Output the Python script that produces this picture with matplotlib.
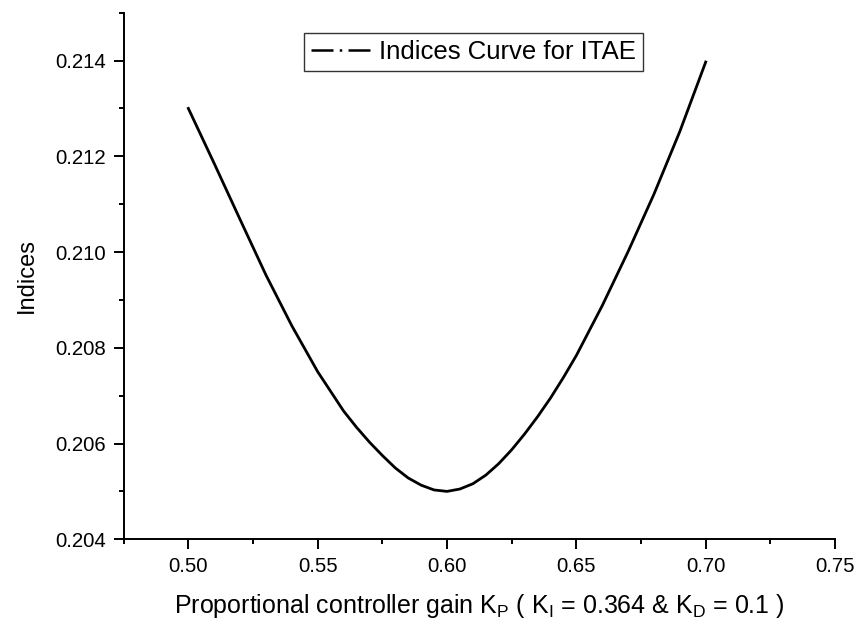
import matplotlib as mpl
import matplotlib.pyplot as plt
from matplotlib.lines import Line2D
from matplotlib.ticker import MultipleLocator, FormatStrFormatter

# Proportional gain K_P and ITAE index
kp = [0.500, 0.510, 0.520, 0.530, 0.540, 0.550, 0.560, 0.565, 0.570, 0.575,
      0.580, 0.585, 0.590, 0.595, 0.600, 0.605, 0.610, 0.615, 0.620, 0.625,
      0.630, 0.635, 0.640, 0.645, 0.650, 0.660, 0.670, 0.680, 0.690, 0.700]
itae = [0.21300, 0.21185, 0.21068, 0.20952, 0.20846, 0.20750, 0.20668, 0.20634,
        0.20603, 0.20575, 0.20549, 0.20528, 0.20513, 0.20503, 0.20500, 0.20505,
        0.20516, 0.20534, 0.20558, 0.20587, 0.20620, 0.20656, 0.20695, 0.20738,
        0.20784, 0.20888, 0.21001, 0.21121, 0.21252, 0.21397]

series_label = "Indices Curve for ITAE"
x_label = r"Proportional controller gain K$_{\rm P}$ ( K$_{\rm I}$ = 0.364 & K$_{\rm D}$ = 0.1 )"
y_label = "Indices"

mpl.rcParams.update({
    "font.family": ["Liberation Sans", "DejaVu Sans"],
    "mathtext.fontset": "custom",
    "mathtext.rm": "Liberation Sans",
    "mathtext.it": "Liberation Sans:italic",
    "mathtext.bf": "Liberation Sans:bold",
})

fig = plt.figure(figsize=(8.6, 6.28), dpi=100)
ax = fig.add_axes([0.1438, 0.1413, 0.8272, 0.8385])

ax.plot(kp, itae, color="black", linewidth=2.0, solid_joinstyle="round")

ax.set_xlim(0.475, 0.75)
ax.set_ylim(0.204, 0.215)
ax.xaxis.set_major_locator(MultipleLocator(0.05))
ax.xaxis.set_minor_locator(MultipleLocator(0.025))
ax.yaxis.set_major_locator(MultipleLocator(0.002))
ax.yaxis.set_minor_locator(MultipleLocator(0.001))
ax.xaxis.set_major_formatter(FormatStrFormatter("%.2f"))
ax.yaxis.set_major_formatter(FormatStrFormatter("%.3f"))

for side in ("top", "right"):
    ax.spines[side].set_visible(False)
for side in ("left", "bottom"):
    ax.spines[side].set_linewidth(1.4)
ax.tick_params(which="major", direction="out", length=7, width=1.4, labelsize=14.7, pad=6)
ax.tick_params(which="minor", direction="out", length=3.5, width=1.4)

ax.set_xlabel(x_label, fontsize=18, labelpad=11)
ax.set_ylabel(y_label, fontsize=17, labelpad=12)

handle = Line2D([], [], color="black", linewidth=1.8, dashes=(8.8, 2.5, 1, 2.5))
leg = ax.legend([handle], [series_label], loc="upper left",
                bbox_to_anchor=(0.2535, 0.962), borderaxespad=0,
                fontsize=18.5, handlelength=2.3, handletextpad=0.35,
                frameon=True, fancybox=False, borderpad=0.28)
leg.get_frame().set_edgecolor("black")
leg.get_frame().set_linewidth(1.0)

fig.savefig("out.png", dpi=100, facecolor="white")
